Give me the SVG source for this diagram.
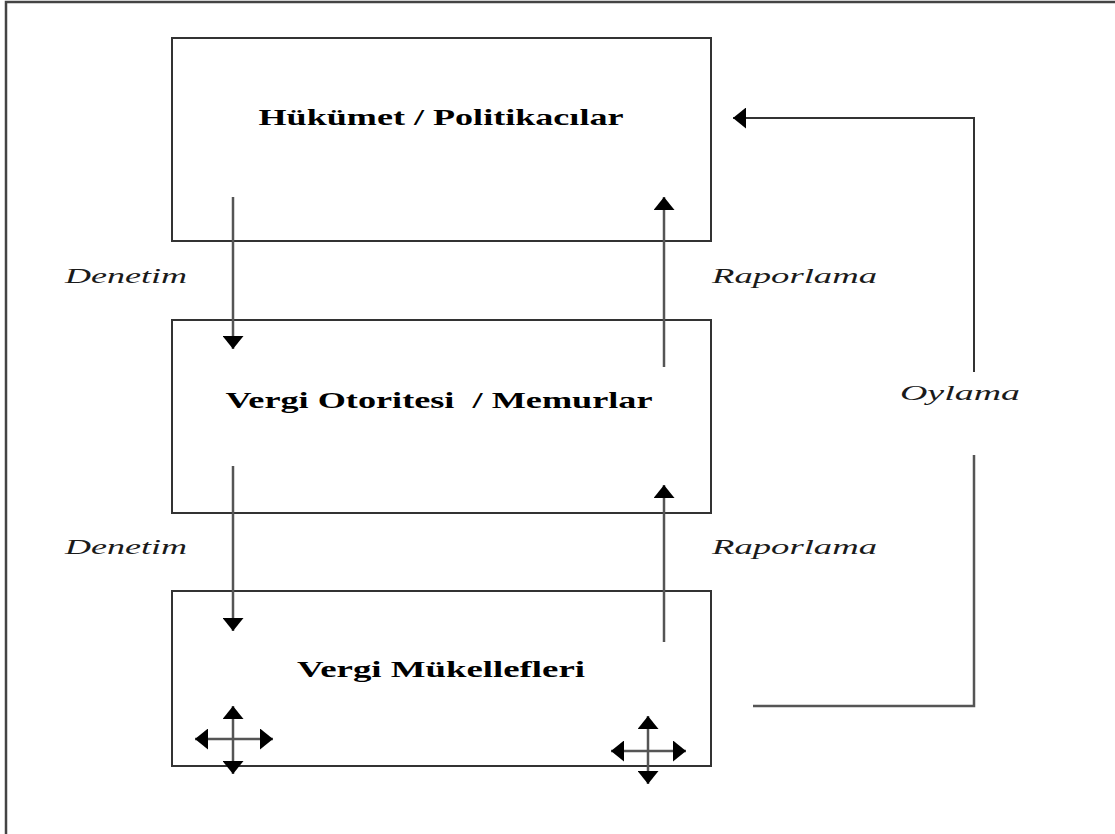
<svg xmlns="http://www.w3.org/2000/svg" width="1115" height="834" viewBox="0 0 1115 834">
<style>
.frame{fill:none;stroke:#444;stroke-width:2.5}
.box{fill:#fff;stroke:#333;stroke-width:2}
.title{font-family:"Liberation Serif","Times New Roman",serif;font-weight:bold;font-size:24px;fill:#000}
.lbl{font-family:"Liberation Serif","Times New Roman",serif;font-style:italic;font-size:22px;fill:#1a1a1a}
.conn{fill:none;stroke:#555;stroke-width:2.5}
.conn2{fill:none;stroke:#333;stroke-width:2}
</style>
<defs>
<marker id="ah" markerUnits="userSpaceOnUse" markerWidth="14" markerHeight="21" refX="13" refY="10.5" orient="auto-start-reverse">
<path d="M0,0 L13,10.5 L0,21 z" fill="#000"/>
</marker>
</defs>
<rect x="0" y="0" width="1115" height="834" fill="#fff"/>
<rect class="frame" x="6" y="2" width="1200" height="900"/>
<g id="node-hukumet">
<rect class="box" x="172" y="38" width="539" height="203"/>
<text class="title" x="441" y="125" text-anchor="middle" textLength="365" lengthAdjust="spacingAndGlyphs">Hükümet / Politikacılar</text>
</g>
<g id="node-vergi-otoritesi">
<rect class="box" x="172" y="320" width="539" height="193"/>
<text class="title" x="439" y="408" text-anchor="middle" textLength="427" lengthAdjust="spacingAndGlyphs" xml:space="preserve">Vergi Otoritesi  / Memurlar</text>
</g>
<g id="node-mukellefler">
<rect class="box" x="172" y="591" width="539" height="175"/>
<text class="title" x="441" y="677" text-anchor="middle" textLength="288" lengthAdjust="spacingAndGlyphs">Vergi Mükellefleri</text>
<g id="cross-left">
<line class="conn" x1="195" y1="739" x2="273" y2="739" marker-start="url(#ah)" marker-end="url(#ah)"/>
<line class="conn" x1="233" y1="706" x2="233" y2="774" marker-start="url(#ah)" marker-end="url(#ah)"/>
</g>
<g id="cross-right">
<line class="conn" x1="611" y1="751" x2="686" y2="751" marker-start="url(#ah)" marker-end="url(#ah)"/>
<line class="conn" x1="648" y1="716" x2="648" y2="784" marker-start="url(#ah)" marker-end="url(#ah)"/>
</g>
</g>
<g id="connectors">
<line class="conn" x1="233" y1="197" x2="233" y2="349" marker-end="url(#ah)"/>
<line class="conn" x1="664" y1="367" x2="664" y2="197" marker-end="url(#ah)"/>
<line class="conn" x1="233" y1="466" x2="233" y2="631" marker-end="url(#ah)"/>
<line class="conn" x1="664" y1="642" x2="664" y2="485" marker-end="url(#ah)"/>
<polyline class="conn" points="753,706 974,706 974,455"/>
<polyline class="conn2" points="974,372 974,118 733,118" marker-end="url(#ah)"/>
<text class="lbl" x="65" y="283" textLength="122" lengthAdjust="spacingAndGlyphs">Denetim</text>
<text class="lbl" x="712" y="283" textLength="165" lengthAdjust="spacingAndGlyphs">Raporlama</text>
<text class="lbl" x="900" y="400" textLength="120" lengthAdjust="spacingAndGlyphs">Oylama</text>
<text class="lbl" x="65" y="554" textLength="122" lengthAdjust="spacingAndGlyphs">Denetim</text>
<text class="lbl" x="712" y="554" textLength="165" lengthAdjust="spacingAndGlyphs">Raporlama</text>
</g>
</svg>
